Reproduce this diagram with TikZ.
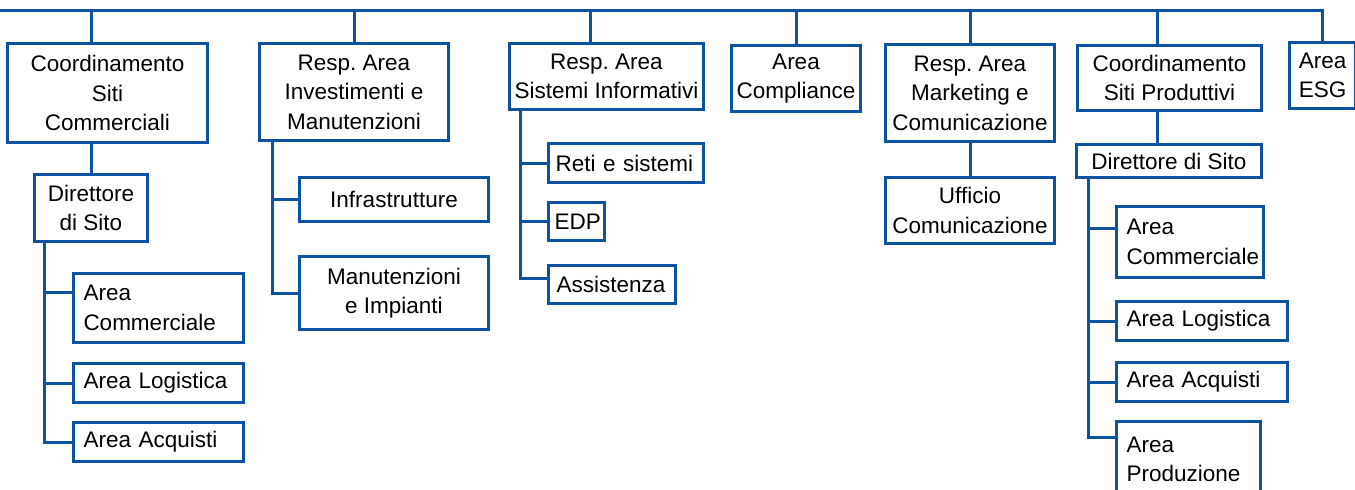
\documentclass[tikz,border=0pt]{standalone}
\usepackage{fontspec}
\setmainfont{Liberation Sans}
\usepackage{xcolor}
\definecolor{orgblue}{RGB}{12,82,160}
\frenchspacing
\hyphenpenalty=10000
\exhyphenpenalty=10000
\tikzset{
    unit/.style = {draw=orgblue, line width=3pt, rectangle, inner sep=0pt, anchor=north west, align=center, font=\fontsize{22.5}{29.5}\selectfont},
    unit-left/.style = {unit, align=left, inner xsep=10pt},
    link/.style = {draw=orgblue, line width=3pt},
}
\begin{document}
\begin{tikzpicture}[x=1pt, y=-1pt]
\useasboundingbox (0,0) rectangle (1355,490);
\coordinate (bus) at (0,10);

% first level
\node[unit, minimum width=200pt, minimum height=99pt] (cscomm) at (6,42) {Coordinamento\\Siti\\Commerciali};
\node[unit, minimum width=189pt, minimum height=97pt] (rinv) at (258,42) {Resp. Area\\Investimenti e\\Manutenzioni};
\node[unit, minimum width=194pt, minimum height=66pt] (rsi) at (508,42) {Resp. Area\\Sistemi Informativi};
\node[unit, minimum width=129pt, minimum height=66pt] (comp) at (730,44) {Area\\Compliance};
\node[unit, minimum width=169pt, minimum height=97pt] (rmkt) at (884,43) {Resp. Area\\Marketing e\\Comunicazione};
\node[unit, minimum width=184pt, minimum height=65pt] (csprod) at (1076,44) {Coordinamento\\Siti Produttivi};
\node[unit, minimum width=66pt, minimum height=66pt] (esg) at (1288,41) {Area\\ESG};

% siti commerciali
\node[unit, minimum width=113pt, minimum height=67pt] (dsc) at (33,173) {Direttore\\di Sito};
\node[unit-left, text width=150pt, minimum height=69pt] (acom1) at (72,272) {Area\\Commerciale};
\node[unit-left, text width=150pt, minimum height=39pt] (alog1) at (72,362) {Area Logistica};
\node[unit-left, text width=150pt, minimum height=39pt] (aacq1) at (72,421) {Area Acquisti};

% investimenti
\node[unit, minimum width=189pt, minimum height=44pt] (infra) at (298,176) {Infrastrutture};
\node[unit, minimum width=189pt, minimum height=73pt] (manimp) at (298,255) {Manutenzioni\\e Impianti};

% sistemi informativi
\node[unit-left, inner xsep=7pt, text width=141pt, minimum height=39pt] (reti) at (547,142) {Reti e sistemi};
\node[unit-left, inner xsep=6pt, text width=44pt, minimum height=38pt] (edp) at (547,201) {EDP};
\node[unit-left, inner xsep=8pt, text width=111pt, minimum height=38pt] (assist) at (547,264) {Assistenza};

% marketing
\node[unit, minimum width=169pt, minimum height=66pt] (uffcom) at (884,176) {Ufficio\\Comunicazione};

% siti produttivi
\node[unit, minimum width=185pt, minimum height=33pt] (dsp) at (1075,143) {Direttore di Sito};
\node[unit-left, text width=127pt, minimum height=71pt] (acom2) at (1115,205) {Area\\Commerciale};
\node[unit-left, text width=151pt, minimum height=39pt] (alog2) at (1115,300) {Area Logistica};
\node[unit-left, text width=151pt, minimum height=39pt] (aacq2) at (1115,361) {Area Acquisti};
\node[unit-left, text width=124pt, minimum height=76pt] (aprod) at (1115,420) {Area\\Produzione};

% bus and drops
\draw[link] (bus) -| (esg.north);
\draw[link] (dsc.north |- cscomm.north) -- (dsc.north |- bus);
\draw[link] (rinv.north) -- (rinv.north |- bus);
\draw[link] ([xshift=-16pt]rsi.north) -- ([xshift=-16pt]rsi.north |- bus);
\draw[link] (comp.north) -- (comp.north |- bus);
\draw[link] (rmkt.north) -- (rmkt.north |- bus);
\draw[link] ([xshift=-12pt]csprod.north) -- ([xshift=-12pt]csprod.north |- bus);

% vertical links
\draw[link] (dsc.north |- cscomm.south) -- (dsc.north);
\draw[link] (rmkt.south) -- (uffcom.north);
\draw[link] ([xshift=-12pt]csprod.south) -- ([xshift=-12pt]csprod.south |- dsp.north);

% side branches
\draw[link] ([xshift=11pt]dsc.south west) |- (aacq1.west);
\draw[link] ([yshift=-20pt]acom1.north west) -| ([xshift=11pt]dsc.south west);
\draw[link] (alog1.west) -| ([xshift=11pt]dsc.south west);

\draw[link] ([xshift=14pt]rinv.south west) |- (manimp.west);
\draw[link] (infra.west) -| ([xshift=14pt]rinv.south west);

\draw[link] ([xshift=12pt]rsi.south west) |- ([yshift=6pt]assist.west);
\draw[link] (reti.west) -| ([xshift=12pt]rsi.south west);
\draw[link] (edp.west) -| ([xshift=12pt]rsi.south west);

\draw[link] ([xshift=13pt]dsp.south west) |- ([yshift=-17pt]aprod.north west);
\draw[link] ([yshift=-23pt]acom2.north west) -| ([xshift=13pt]dsp.south west);
\draw[link] (alog2.west) -| ([xshift=13pt]dsp.south west);
\draw[link] (aacq2.west) -| ([xshift=13pt]dsp.south west);
\end{tikzpicture}
\end{document}
